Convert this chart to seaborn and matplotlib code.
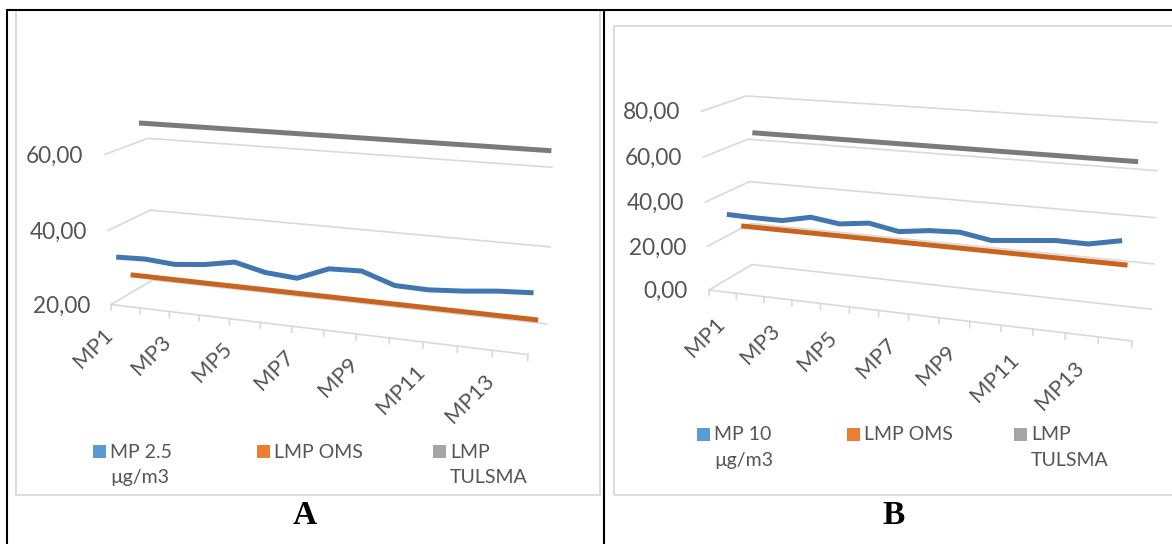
import numpy as np
import matplotlib
matplotlib.use("Agg")
import matplotlib.pyplot as plt
import seaborn as sns
from matplotlib.lines import Line2D
from matplotlib.patches import Rectangle
from mpl_toolkits.mplot3d import proj3d

# ---------------- data ----------------
sites = ["MP1", "MP2", "MP3", "MP4", "MP5", "MP6", "MP7",
         "MP8", "MP9", "MP10", "MP11", "MP12", "MP13", "MP14"]
shown_sites = ["MP1", "MP3", "MP5", "MP7", "MP9", "MP11", "MP13"]

pm25 = [31.9, 32.2, 31.6, 32.4, 33.9, 32.0, 31.4, 34.7, 35.0, 32.2, 32.0, 32.6, 33.5, 34.0]
pm10 = [33.5, 33.2, 33.2, 35.9, 34.2, 35.8, 33.4, 35.1, 35.7, 33.5, 34.8, 36.1, 36.0, 38.7]
lmp_oms = [25, 25, 25, 25, 25, 25, 25, 25, 25, 25, 25, 25, 25, 25]
lmp_tulsma = [65, 65, 65, 65, 65, 65, 65, 65, 65, 65, 65, 65, 65, 65]

ticks_a = [20, 40, 60]
ticks_b = [0, 20, 40, 60, 80]
tick_text_a = ["20,00", "40,00", "60,00"]
tick_text_b = ["0,00", "20,00", "40,00", "60,00", "80,00"]

legend_a = ["MP 2.5\nµg/m3", "LMP OMS", "LMP\nTULSMA"]
legend_b = ["MP 10\nµg/m3", "LMP OMS", "LMP\nTULSMA"]

# ---------------- style ----------------
sns.set_theme(style="white")
plt.rcParams["font.family"] = ["Lato", "DejaVu Sans"]
swatch = sns.color_palette(["#5B9BD5", "#ED7D31", "#A5A5A5"])
ribbon = ["#4176B0", "#C9631E", "#7B7B7B"]
TXT = "#555555"
GRID = "#D9D9D9"

# camera of the 3-D line charts
ELEV, AZIM, FOCAL = 14.55, -69.86, 0.516
DEPTH = {"measure": 0.16, "oms": 0.47, "tulsma": 0.80}

W, H = 1172, 544
fig = plt.figure(figsize=(W / 100, H / 100), dpi=100)


def fx(x):
    return x / W


def fy(y):
    return 1 - y / H


# outer frame of the two-cell table
for xs, ys in [([6.5, W], [9.5, 9.5]), ([6.5, 6.5], [9.5, H]), ([603.5, 603.5], [9.5, H])]:
    fig.add_artist(Line2D([fx(v) for v in xs], [fy(v) for v in ys],
                          transform=fig.transFigure, color="black", lw=1.5))

# chart-area borders
for (x0, y0, x1, y1) in [(15.5, 10.5, 600, 494.5), (614.5, 25.5, 1180, 495)]:
    fig.add_artist(Rectangle((fx(x0), fy(y1)), fx(x1) - fx(x0), fy(y0) - fy(y1),
                             transform=fig.transFigure, fill=False, ec=GRID, lw=1.3))


def to_px(ax, x, y, z):
    xs, ys, _ = proj3d.proj_transform(np.atleast_1d(np.asarray(x, float)),
                                      np.atleast_1d(np.asarray(y, float)),
                                      np.atleast_1d(np.asarray(z, float)),
                                      ax.get_proj())
    return ax.transData.transform(np.column_stack([xs, ys]))


def panel(measure, zlim, zticks, ztext, xlim, box, front_left, front_right,
          lab_dy, legend_labels, legend_xy, legend_base):
    ax = fig.add_axes([0, 0, 0.4, 0.4], projection="3d", computed_zorder=False)
    ax.set_proj_type("persp", focal_length=FOCAL)
    ax.view_init(elev=ELEV, azim=AZIM)
    ax.set_axis_off()
    ax.patch.set_alpha(0)

    x = np.arange(len(sites))
    x0, x1 = xlim
    zmin, zmax = zlim

    # wall gridlines (side wall + back wall) and floor front edge
    for zt in zticks:
        ax.plot([x0, x0, x1], [0, 1, 1], [zt, zt, zt], color=GRID, lw=1.2)
    ax.plot([x0, x1], [0, 0], [zmin, zmin], color=GRID, lw=1.2)
    tl = 0.035 * (zmax - zmin)
    for xt in np.arange(x0, x1 + 0.01, 1.0):
        ax.plot([xt, xt], [0, 0], [zmin, zmin - tl], color=GRID, lw=1.2)

    # series ribbons, back to front
    for vals, depth, col in [(lmp_tulsma, DEPTH["tulsma"], ribbon[2]),
                             (lmp_oms, DEPTH["oms"], ribbon[1]),
                             (measure, DEPTH["measure"], ribbon[0])]:
        ax.plot(x, np.full(len(x), depth), vals, color=col, lw=3.6,
                solid_capstyle="butt", solid_joinstyle="round")

    ax.set_xlim(x0, x1)
    ax.set_ylim(0, 1)
    ax.set_zlim(zmin, zmax)
    ax.set_box_aspect(box)

    # place the axes so the front floor edge lands where wanted
    S0 = 500.0
    ax.set_position([0, 0, S0 / W, S0 / H])
    pa = to_px(ax, x0, 0, zmin)[0]
    pb = to_px(ax, x1, 0, zmin)[0]
    ta = np.array([front_left[0], H - front_left[1]])
    tb = np.array([front_right[0], H - front_right[1]])
    k = np.linalg.norm(tb - ta) / np.linalg.norm(pb - pa)
    org = ta - k * pa
    S = S0 * k
    ax.set_position([org[0] / W, org[1] / H, S / W, S / H])

    # value labels beside the side wall
    for zt, s in zip(zticks, ztext):
        p = to_px(ax, x0, 0, zt)[0]
        fig.text((p[0] - 21) / W, (p[1] - 1.5) / H, s, ha="right", va="center",
                 fontsize=16.3, color=TXT)

    # category labels, every other site
    for i, name in enumerate(sites):
        if name not in shown_sites:
            continue
        p = to_px(ax, i, 0, zmin)[0]
        fig.text((p[0] - 1) / W, (p[1] - lab_dy) / H, name, ha="right", va="center",
                 rotation=45, rotation_mode="anchor", fontsize=16, color=TXT)

    # legend
    lx, ly = legend_xy
    for (xoff, lab, col) in zip(legend_base, legend_labels, swatch):
        fig.add_artist(Rectangle((fx(lx + xoff), fy(ly + 12.5)), 12.5 / W, 12.5 / H,
                                 transform=fig.transFigure, color=col, lw=0))
        for j, line in enumerate(lab.split("\n")):
            fig.text(fx(lx + xoff + 17), fy(ly + 12.5 + 25.5 * j), line, ha="left",
                     va="baseline", fontsize=14, color=TXT)
    return ax


panel(pm25, (20, 66), ticks_a, tick_text_a, (0, 13), (1, 0.2142, 0.4173),
      (111, 304.5), (528, 354), 27, legend_a, (93.5, 445), [0, 163.5, 339.5])
panel(pm10, (0, 80), ticks_b, tick_text_b, (-0.5, 13.5), (1, 0.2183, 0.4244),
      (709, 290), (1132, 340), 29.5, legend_b, (697, 428), [0, 150, 317])

fig.text(fx(305), fy(524), "A", ha="center", va="baseline", fontsize=24,
         fontweight="bold", family="Liberation Serif", color="black")
fig.text(fx(894), fy(524), "B", ha="center", va="baseline", fontsize=24,
         fontweight="bold", family="Liberation Serif", color="black")

fig.savefig("out.png", dpi=100)
